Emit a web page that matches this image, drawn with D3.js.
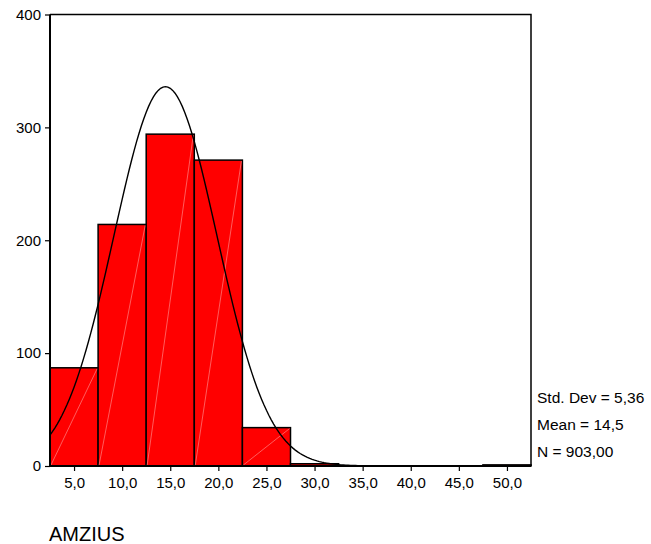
<!DOCTYPE html>
<html>
<head>
<meta charset="utf-8">
<script src="https://cdn.jsdelivr.net/npm/d3@7"></script>
<style>
  body { margin: 0; background: #fff; }
  text { font-family: "Liberation Sans", Arial, sans-serif; fill: #000; }
</style>
</head>
<body>
<svg id="chart" width="651" height="544"></svg>
<script>
// histogram bins (lower edge), counts per bin
var binStarts = [2.5, 7.5, 12.5, 17.5, 22.5, 27.5, 32.5, 37.5, 42.5, 47.5];
var counts = [87, 214, 294, 271, 34, 2, 0, 0, 0, 1];
var binWidth = 5;
var xTicks = [5, 10, 15, 20, 25, 30, 35, 40, 45, 50];
var yTicks = [0, 100, 200, 300, 400];
var stats = { sd: 5.36, mean: 14.5, n: 903 };
var statLabels = ['Std. Dev = 5,36', 'Mean = 14,5', 'N = 903,00'];
var varName = 'AMZIUS';

(function() {
  var svg = d3.select('#chart');
  var plotLeft = 50, plotRight = 531, plotTop = 14.5, plotBottom = 466;

  var x = d3.scaleLinear().domain([2.5, 52.5]).range([plotLeft, plotRight]);
  var y = d3.scaleLinear().domain([0, 400]).range([plotBottom, plotTop]);

  var fmt = function(v) { return d3.format('.1f')(v).replace('.', ','); };

  // bars
  var bins = binStarts.map(function(b, i) { return { x0: b, x1: b + binWidth, count: counts[i] }; })
    .filter(function(d) { return d.count > 0; });

  svg.selectAll('rect.bar').data(bins).enter().append('rect')
    .attr('class', 'bar')
    .attr('x', function(d) { return x(d.x0); })
    .attr('y', function(d) { return y(d.count); })
    .attr('width', function(d) { return x(d.x1) - x(d.x0); })
    .attr('height', function(d) { return y(0) - y(d.count); })
    .attr('fill', '#ff0000')
    .attr('stroke', '#000')
    .attr('stroke-width', 1.5);

  // faint diagonal inside each bar
  svg.selectAll('line.diag').data(bins.filter(function(d) { return d.count > 5; })).enter().append('line')
    .attr('class', 'diag')
    .attr('x1', function(d) { return x(d.x0) + 1; })
    .attr('y1', y(0) - 1)
    .attr('x2', function(d) { return x(d.x1) - 1; })
    .attr('y2', function(d) { return y(d.count) + 1; })
    .attr('stroke', '#ff9a9a')
    .attr('stroke-width', 0.6);

  // normal curve
  var pts = d3.range(2.5, 52.51, 0.25);
  var normal = function(v) {
    var z = (v - stats.mean) / stats.sd;
    return stats.n * binWidth * Math.exp(-0.5 * z * z) / (stats.sd * Math.sqrt(2 * Math.PI));
  };
  svg.append('path')
    .datum(pts)
    .attr('fill', 'none')
    .attr('stroke', '#000')
    .attr('stroke-width', 1.4)
    .attr('d', d3.line().x(function(d) { return x(d); }).y(function(d) { return y(normal(d)); }));

  // frame (top and right)
  svg.append('path')
    .attr('d', 'M' + plotLeft + ',' + plotTop + 'H' + plotRight + 'V' + plotBottom)
    .attr('fill', 'none').attr('stroke', '#000').attr('stroke-width', 1.5);

  // axes
  var yAxis = svg.append('g')
    .attr('transform', 'translate(' + plotLeft + ',0)')
    .call(d3.axisLeft(y).tickValues(yTicks).tickSize(5).tickPadding(4).tickFormat(d3.format('d')));
  var xAxis = svg.append('g')
    .attr('transform', 'translate(0,' + plotBottom + ')')
    .call(d3.axisBottom(x).tickValues(xTicks).tickSize(5).tickPadding(6).tickFormat(fmt));

  yAxis.select('.domain').attr('stroke-width', 2).attr('d', 'M0,' + plotTop + 'V' + plotBottom);
  xAxis.select('.domain').attr('stroke-width', 2).attr('d', 'M' + plotLeft + ',0H' + plotRight);
  [yAxis, xAxis].forEach(function(g) {
    g.selectAll('.tick line').attr('stroke-width', 1.2);
    g.selectAll('text').style('font-size', '15px').style('font-family', '"Liberation Sans", Arial, sans-serif');
  });

  // stats legend
  svg.selectAll('text.stat').data(statLabels).enter().append('text')
    .attr('class', 'stat')
    .attr('x', 537)
    .attr('y', function(d, i) { return 403 + i * 27; })
    .style('font-size', '15.5px')
    .text(function(d) { return d; });

  svg.append('text')
    .attr('x', 49)
    .attr('y', 541)
    .style('font-size', '20px')
    .text(varName);
})();
</script>
</body>
</html>
